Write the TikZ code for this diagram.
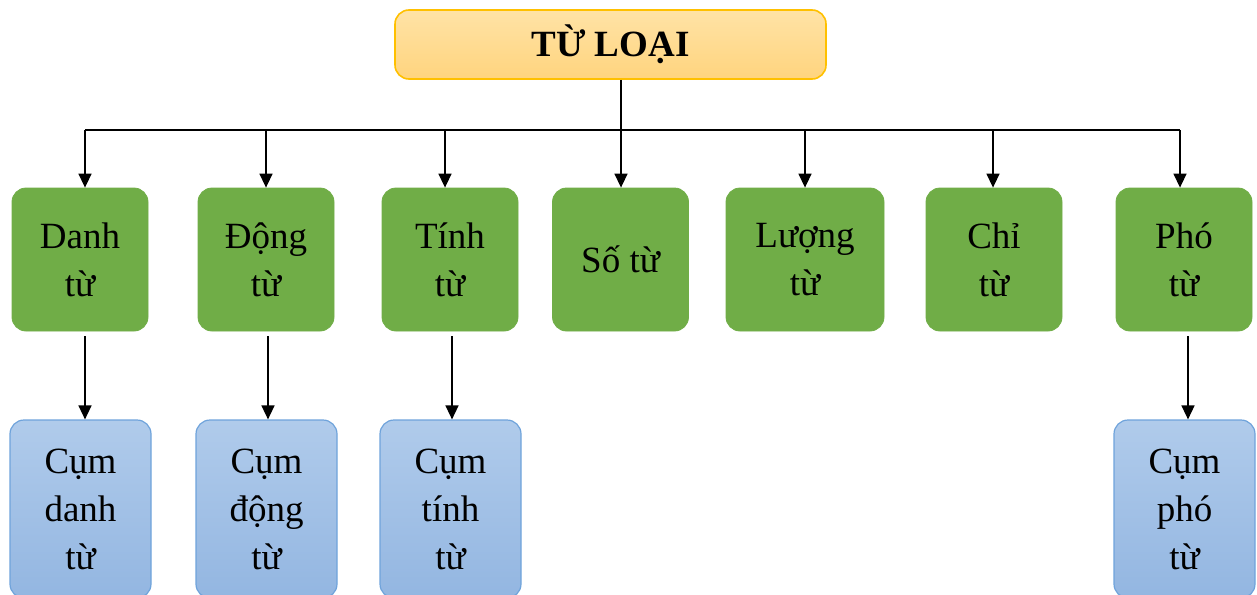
\documentclass[tikz,border=0pt]{standalone}
\usepackage{fontspec}
\setmainfont{Liberation Serif}
\usetikzlibrary{arrows.meta}
\definecolor{loailine}{HTML}{FFC000}
\definecolor{loaitop}{HTML}{FFE3A6}
\definecolor{loaibot}{HTML}{FFD47E}
\definecolor{tufill}{HTML}{70AD47}
\definecolor{cumline}{HTML}{6FA3DB}
\definecolor{cumtop}{HTML}{B0CBEB}
\definecolor{cumbot}{HTML}{93B6E1}
\newcommand{\txt}{\fontsize{18.5}{24}\selectfont}

\begin{document}
\begin{tikzpicture}[x=0.5pt,y=-0.5pt,
  box/.style={rounded corners=7pt, align=center, inner sep=0pt, font=\txt},
  tu/.style={box, draw=tufill, fill=tufill, minimum width=68pt, minimum height=71.5pt},
  cum/.style={box, draw=cumline, line width=0.6pt, top color=cumtop, bottom color=cumbot, minimum width=70.5pt, minimum height=89pt},
  loai/.style={box, draw=loailine, line width=0.8pt, top color=loaitop, bottom color=loaibot, minimum width=215.5pt, minimum height=34.5pt, font=\txt\bfseries},
  arr/.style={-{Triangle[length=7pt,width=6.5pt]}, line width=0.75pt}]
\useasboundingbox (0,0) rectangle (1257,594);
\clip (0,0) rectangle (1257,594);

\node[loai] (loai) at (610.5,44.5) {TỪ LOẠI};

% hang giua
\node[tu] (danh) at (80,259.5) {Danh\\từ};
\node[tu] (dong) at (266,259.5) {Động\\từ};
\node[tu] (tinh) at (450,259.5) {Tính\\từ};
\node[tu] (so) at (620.5,259.5) {Số từ};
\node[tu, minimum width=79pt] (luong) at (805,259.5) {Lượng\\từ};
\node[tu] (chi) at (994,259.5) {Chỉ\\từ};
\node[tu] (pho) at (1184,259.5) {Phó\\từ};

% hang duoi
\node[cum] (cdanh) at (80.5,509) {Cụm\\danh\\từ};
\node[cum] (cdong) at (266.5,509) {Cụm\\động\\từ};
\node[cum] (ctinh) at (450.5,509) {Cụm\\tính\\từ};
\node[cum] (cpho) at (1184.5,509) {Cụm\\phó\\từ};

\foreach \n/\x in {danh/85, dong/266, tinh/445, so/621, luong/805, chi/993, pho/1180} {
  \coordinate (b\n) at (\x,130);
  \draw[arr] (b\n) -- (b\n |- \n.north);
  }
\draw[line width=0.75pt] (bdanh) -- (bpho);
\draw[line width=0.75pt] (loai.south -| bso) -- (bso);

\foreach \a/\b/\x in {danh/cdanh/85, dong/cdong/268, tinh/ctinh/452, pho/cpho/1188} {
  \coordinate (t\a) at (\x,336);
  \draw[arr] (t\a) -- (t\a |- \b.north);
  }
\end{tikzpicture}
\end{document}
